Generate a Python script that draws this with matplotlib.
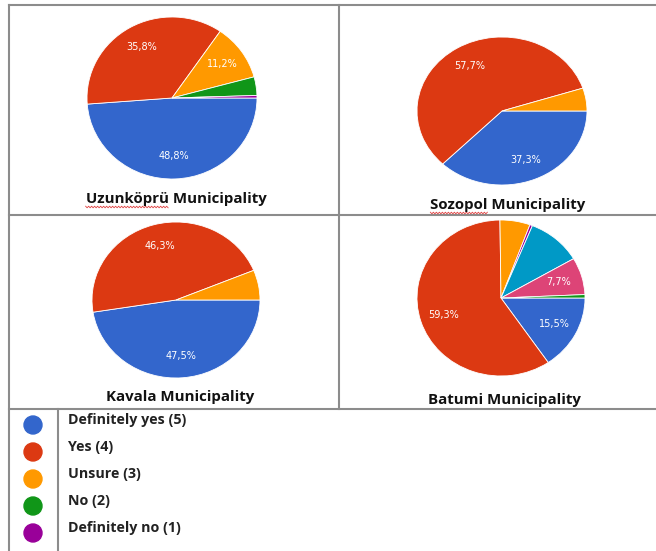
import matplotlib.pyplot as plt
import numpy as np
from matplotlib.lines import Line2D
from matplotlib.patches import Ellipse

W, H = 656, 551

# survey answers, clockwise from 3 o'clock
categories = ["Definitely yes (5)", "Yes (4)", "Unsure (3)", "No (2)", "Definitely no (1)"]
colors = ["#3366cc", "#dc3912", "#ff9900", "#109618", "#990099", "#0099c6", "#dd4477"]

municipalities = ["Uzunköprü Municipality", "Sozopol Municipality",
                  "Kavala Municipality", "Batumi Municipality"]
uzunkopru = [48.8, 35.8, 11.2, 3.7, 0.5]
sozopol = [37.3, 57.7, 5.0]
kavala = [47.5, 46.3, 6.2]
batumi = [15.5, 59.3, 5.8, 0.5, 10.5, 7.7, 0.7]
batumi_colors = ["#3366cc", "#dc3912", "#ff9900", "#990099", "#0099c6", "#dd4477", "#109618"]

uzunkopru_labels = ["48,8%", "35,8%", "11,2%", "", ""]
sozopol_labels = ["37,3%", "57,7%", ""]
kavala_labels = ["47,5%", "46,3%", ""]
batumi_labels = ["15,5%", "59,3%", "", "", "", "7,7%", ""]


def fx(x):
    return x / W


def fy(y):
    return 1 - y / H


def pie_axes(fig, x0, y0, x1, y1):
    return fig.add_axes([fx(x0), fy(y1), (x1 - x0) / W, (y1 - y0) / H])


fig = plt.figure(figsize=(W / 100, H / 100), dpi=100)
renderer = fig.canvas.get_renderer()

# grid lines of the table
grid = "#8c8c8c"
for (xa, ya, xb, yb) in [(9, 5, 656, 5), (9, 5, 9, 551), (339, 5, 339, 409),
                         (9, 215, 656, 215), (9, 409, 656, 409), (58, 409, 58, 551)]:
    fig.add_artist(Line2D([fx(xa), fx(xb)], [fy(ya), fy(yb)], color=grid, lw=1.5))

panels = [
    (uzunkopru, colors, uzunkopru_labels, (87, 17, 257, 179), (176, 199), True),
    (sozopol, colors, sozopol_labels, (417, 37, 587, 185), (508, 205), True),
    (kavala, colors, kavala_labels, (92, 222, 260, 378), (180, 397), False),
    (batumi, batumi_colors, batumi_labels, (417, 220, 585, 376), (504, 400), False),
]

title_font = dict(fontsize=10.8, fontweight="bold", family="Open Sans")

for (vals, cols, labs, box, tpos, squiggle), name in zip(panels, municipalities):
    ax = pie_axes(fig, *box)
    wedges, texts = ax.pie(vals, colors=cols[:len(vals)], labels=labs, startangle=0,
                           counterclock=False, labeldistance=0.72,
                           wedgeprops=dict(edgecolor="white", linewidth=0.6),
                           textprops=dict(color="white", fontsize=7))
    for t in texts:
        t.set_ha("center")
        t.set_va("center")
    ax.set_aspect("auto")
    ax.set_xlim(-1, 1)
    ax.set_ylim(-1, 1)
    ax.axis("off")
    title = fig.text(fx(tpos[0]), fy(tpos[1]), name, ha="center", va="center",
                     color="#111111", **title_font)

    # red spell-check squiggle under the first word
    if squiggle:
        full = title.get_window_extent(renderer)
        probe = fig.text(0, 0, name.split()[0], **title_font)
        word_w = probe.get_window_extent(renderer).width
        probe.remove()
        xs = np.arange(full.x0, full.x0 + word_w, 1.5)
        ys = (H - tpos[1] - 8) + np.where(np.arange(len(xs)) % 2 == 0, 0.8, -0.8)
        fig.add_artist(Line2D(xs / W, ys / H, color="#e04040", lw=0.6))

# legend
leg_y = [425, 452, 479, 506, 533]
for i, lab in enumerate(categories):
    fig.add_artist(Ellipse((fx(33), fy(leg_y[i])), 18 / W, 18 / H, color=colors[i]))
    fig.text(fx(68), fy(leg_y[i] - 5), lab, ha="left", va="center",
             fontsize=10.3, fontweight="bold", family="Open Sans", color="#222222")

fig.savefig("out.png", dpi=100)
